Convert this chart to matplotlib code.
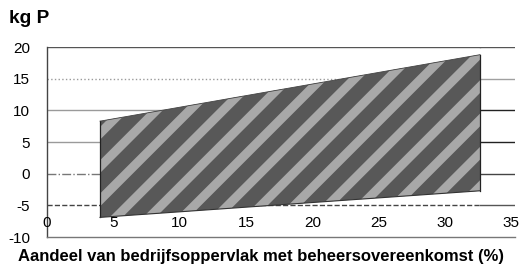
import matplotlib
matplotlib.use("Agg")
import matplotlib.pyplot as plt
import numpy as np

# Data
x_band = [4.0, 32.65]
upper = [8.3, 18.8]
lower = [-6.9, -2.7]
x_ticks = [0, 5, 10, 15, 20, 25, 30, 35]
y_ticks = [-10, -5, 0, 5, 10, 15, 20]
grid_levels = [20, 15, 10, 5, 0, -5]
grid_left_style = [("-", "#555555"), (":", "#9a9a9a"), ("-", "#9a9a9a"),
                   ("-", "#9a9a9a"), ("-.", "#777777"), ("--", "#444444")]
grid_right_style = [("-", "#555555"), ("-", "#a0a0a0"), ("-", "#222222"),
                    ("-", "#222222"), ("-", "#444444"), ("-", "#555555")]

plt.rcParams['font.family'] = ['Liberation Sans', 'DejaVu Sans']
plt.rcParams['hatch.linewidth'] = 6.5

XMAX = 35.3
fig = plt.figure(figsize=(5.22, 2.66), dpi=100)
ax = fig.add_axes([0.090, 0.109, 0.897, 0.714])
ax.set_xlim(0, XMAX)
ax.set_ylim(-10, 20)

# gridlines, split at band right edge (band covers the middle)
for lvl, (lsl, lcl), (lsr, lcr) in zip(grid_levels, grid_left_style, grid_right_style):
    ax.plot([0, x_band[1]], [lvl, lvl], linestyle=lsl, color=lcl, lw=1.0, zorder=1)
    ax.plot([x_band[1], XMAX], [lvl, lvl], linestyle=lsr, color=lcr, lw=1.0, zorder=1)

# band
ax.fill_between(x_band, lower, upper, facecolor="#585858", edgecolor="none", lw=0, zorder=2)
ax.fill_between(x_band, lower, upper, facecolor="none", edgecolor="#a8a8a8",
                hatch="/", lw=0, zorder=3)
ax.plot([x_band[0], x_band[0]], [lower[0], upper[0]], color="#222222", lw=0.9, zorder=4)
ax.plot([x_band[1], x_band[1]], [lower[1], upper[1]], color="#222222", lw=0.9, zorder=4)
ax.plot(x_band, lower, color="#333333", lw=0.8, zorder=4)
ax.plot(x_band, upper, color="#444444", lw=0.6, zorder=4)

# spines
for s in ["top", "right"]:
    ax.spines[s].set_visible(False)
ax.spines["left"].set_color("#444444")
ax.spines["left"].set_linewidth(1.0)
ax.spines["bottom"].set_color("#777777")
ax.spines["bottom"].set_linewidth(1.0)

ax.set_yticks(y_ticks)
ax.set_yticklabels([str(v) for v in y_ticks], fontsize=11)
ax.tick_params(axis="y", length=0, pad=12)
ax.set_xticks([])

# x tick labels drawn inside the plot (as in reference)
for xv in x_ticks:
    ax.text(xv, -7.75, str(xv), ha="center", va="center", fontsize=11, zorder=5)

fig.text(0.017, 0.930, "kg P", fontsize=13.8, fontweight="bold", ha="left", va="center")
fig.text(0.500, 0.034, "Aandeel van bedrijfsoppervlak met beheersovereenkomst (%)",
         fontsize=12, fontweight="bold", ha="center", va="center")

fig.savefig("out.png", dpi=100)
